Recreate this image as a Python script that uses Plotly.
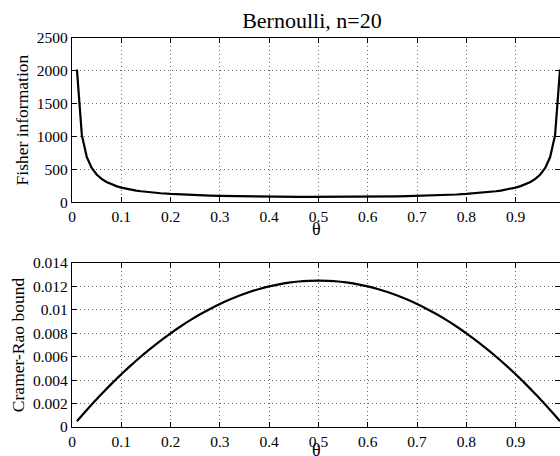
import plotly.graph_objects as go

theta = [0.01, 0.02, 0.03, 0.04, 0.05, 0.06, 0.07, 0.08, 0.09, 0.10,
         0.11, 0.12, 0.13, 0.14, 0.15,
         0.16, 0.18, 0.20, 0.22, 0.24, 0.26, 0.28, 0.30, 0.32, 0.34,
         0.36, 0.38, 0.40, 0.42, 0.44, 0.46, 0.48, 0.50, 0.52, 0.54,
         0.56, 0.58, 0.60, 0.62, 0.64, 0.66, 0.68, 0.70, 0.72, 0.74,
         0.76, 0.78, 0.80, 0.82, 0.84,
         0.85, 0.86, 0.87, 0.88, 0.89, 0.90, 0.91, 0.92, 0.93, 0.94,
         0.95, 0.96, 0.97, 0.98, 0.99]

fisher_info = [2020.2, 1020.4, 687.3, 520.8, 421.1, 354.6, 307.2, 271.7, 244.2, 222.2,
               204.3, 189.4, 176.8, 166.1, 156.9,
               148.8, 135.5, 125.0, 116.6, 109.6, 103.9, 99.2, 95.2, 91.9, 89.1,
               86.8, 84.9, 83.3, 82.1, 81.2, 80.5, 80.1, 80.0, 80.1, 80.5,
               81.2, 82.1, 83.3, 84.9, 86.8, 89.1, 91.9, 95.2, 99.2, 103.9,
               109.6, 116.6, 125.0, 135.5, 148.8,
               156.9, 166.1, 176.8, 189.4, 204.3, 222.2, 244.2, 271.7, 307.2, 354.6,
               421.1, 520.8, 687.3, 1020.4, 2020.2]

cramer_rao = [0.000495, 0.00098, 0.001455, 0.00192, 0.002375, 0.00282, 0.003255, 0.00368, 0.004095, 0.0045,
              0.004895, 0.00528, 0.005655, 0.00602, 0.006375,
              0.00672, 0.00738, 0.008, 0.00858, 0.00912, 0.00962, 0.01008, 0.0105, 0.01088, 0.01122,
              0.01152, 0.01178, 0.012, 0.01218, 0.01232, 0.01242, 0.01248, 0.0125, 0.01248, 0.01242,
              0.01232, 0.01218, 0.012, 0.01178, 0.01152, 0.01122, 0.01088, 0.0105, 0.01008, 0.00962,
              0.00912, 0.00858, 0.008, 0.00738, 0.00672,
              0.006375, 0.00602, 0.005655, 0.00528, 0.004895, 0.0045, 0.004095, 0.00368, 0.003255, 0.00282,
              0.002375, 0.00192, 0.001455, 0.00098, 0.000495]

x_ticks = [0, 0.1, 0.2, 0.3, 0.4, 0.5, 0.6, 0.7, 0.8, 0.9]
x_ticktext = ["0", "0.1", "0.2", "0.3", "0.4", "0.5", "0.6", "0.7", "0.8", "0.9"]
fi_ticks = [0, 500, 1000, 1500, 2000, 2500]
fi_ticktext = ["0", "500", "1000", "1500", "2000", "2500"]
crb_ticks = [0, 0.002, 0.004, 0.006, 0.008, 0.01, 0.012, 0.014]
crb_ticktext = ["0", "0.002", "0.004", "0.006", "0.008", "0.01", "0.012", "0.014"]

FONT = "Liberation Serif"

fig = go.Figure()
fig.add_trace(go.Scatter(x=theta, y=fisher_info, mode="lines",
                         line=dict(color="black", width=2.2), xaxis="x", yaxis="y",
                         showlegend=False))
fig.add_trace(go.Scatter(x=theta, y=cramer_rao, mode="lines",
                         line=dict(color="black", width=2.2, shape="spline", smoothing=0.8),
                         xaxis="x2", yaxis="y2", showlegend=False))

axis_common = dict(
    showline=True, linecolor="black", linewidth=1.3, mirror="ticks",
    ticks="inside", ticklen=5, tickcolor="black", tickwidth=1,
    showgrid=True, gridcolor="#666666", griddash="1px,3px", gridwidth=1,
    zeroline=False, automargin=False,
    tickfont=dict(family=FONT, size=15.5, color="black"),
)

fig.update_layout(
    width=560, height=456,
    margin=dict(l=72, r=0, t=38, b=29),
    paper_bgcolor="white", plot_bgcolor="white",
    font=dict(family=FONT, color="black"),
    title=dict(text="Bernoulli, n=20", x=0.557, xanchor="center", y=0.955, yanchor="middle",
               font=dict(family=FONT, size=22, color="black")),
    xaxis=dict(domain=[0, 1], anchor="y", range=[0, 0.99],
               tickvals=x_ticks, ticktext=x_ticktext, **axis_common),
    yaxis=dict(domain=[0.578, 1], anchor="x", range=[0, 2500],
               tickvals=fi_ticks, ticktext=fi_ticktext,
               title=dict(text="Fisher information", font=dict(family=FONT, size=17.5), standoff=3),
               **axis_common),
    xaxis2=dict(domain=[0, 1], anchor="y2", range=[0, 0.99],
                tickvals=x_ticks, ticktext=x_ticktext, **axis_common),
    yaxis2=dict(domain=[0, 0.4216], anchor="x2", range=[0, 0.014],
                tickvals=crb_ticks, ticktext=crb_ticktext,
                title=dict(text="Cramer-Rao bound", font=dict(family=FONT, size=17.5), standoff=3),
                **axis_common),
    annotations=[
        dict(text="θ", xref="paper", yref="paper", x=0.5, y=0.509,
             xanchor="center", yanchor="middle", showarrow=False,
             font=dict(family=FONT, size=18, color="black")),
        dict(text="θ", xref="paper", yref="paper", x=0.5, y=-0.058,
             xanchor="center", yanchor="middle", showarrow=False,
             font=dict(family=FONT, size=18, color="black")),
    ],
)

fig.write_html("out.html")
